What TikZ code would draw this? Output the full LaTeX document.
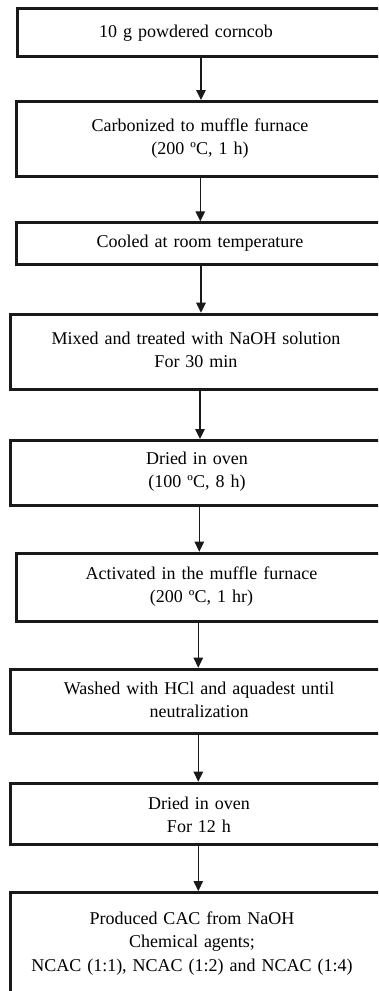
\documentclass[tikz,border=0pt]{standalone}
\usepackage{fontspec}
\setmainfont{Liberation Serif}
\usetikzlibrary{arrows.meta}
\tikzset{
  stepbox/.style={draw=black!90, line width=3pt, rectangle, inner sep=0pt, anchor=north west},
  steptext/.style={font=\fontsize{18}{23.5}\selectfont, text width=340pt, align=center, anchor=base, inner sep=0pt},
  arr/.style={draw=black!90, line width=1.2pt, -{Triangle[length=10pt,width=9.5pt]}}
}
\begin{document}
\begin{tikzpicture}[x=1pt,y=-1pt]
\useasboundingbox (0,0) rectangle (378,991);
\clip (0,0) rectangle (378,991);
\fill[white] (0,0) rectangle (378,991);
% boxes
\node[stepbox, minimum width=379.5pt, minimum height=47.8pt] (b1) at (15.5,6.7) {};
\node[stepbox, minimum width=380pt, minimum height=74.7pt] (b2) at (15,100) {};
\node[stepbox, minimum width=380pt, minimum height=42pt] (b3) at (15,221.3) {};
\node[stepbox, minimum width=385.7pt, minimum height=75pt] (b4) at (9.3,312.7) {};
\node[stepbox, minimum width=385.7pt, minimum height=65.3pt] (b5) at (9.3,439) {};
\node[stepbox, minimum width=380pt, minimum height=68.3pt] (b6) at (15,551.7) {};
\node[stepbox, minimum width=385.7pt, minimum height=64.6pt] (b7) at (9.3,667.7) {};
\node[stepbox, minimum width=385.7pt, minimum height=61.6pt] (b8) at (9.3,781.7) {};
\node[stepbox, minimum width=385.7pt, minimum height=119pt] (b9) at (9.3,891) {};
% texts
\node[steptext] (t1) at (186,37.3) {10 g powdered corncob};
\node[steptext] (t2) at (200,131) {Carbonized to muffle furnace\\(200 ºC, 1 h)};
\node[steptext] (t3) at (200,247.5) {Cooled at room temperature};
\node[steptext] (t4) at (196,344) {Mixed and treated with NaOH solution\\For 30 min};
\node[steptext] (t5) at (197,464) {Dried in oven\\(100 ºC, 8 h)};
\node[steptext] (t6) at (201.5,579) {Activated in the muffle furnace\\(200 ºC, 1 hr)};
\node[steptext] (t7) at (199,694) {Washed with HCl and aquadest until\\neutralization};
\node[steptext] (t8) at (199,809) {Dried in oven\\For 12 h};
\node[steptext] (t9) at (192,924) {Produced CAC from NaOH\\Chemical agents;\\NCAC (1:1), NCAC (1:2) and NCAC (1:4)};
% arrow columns
\coordinate (x1) at (201,0);
\coordinate (x2) at (200.3,0);
\coordinate (x3) at (201,0);
\coordinate (x4) at (200,0);
\coordinate (x5) at (199.3,0);
\coordinate (x6) at (198.3,0);
\coordinate (x7) at (198.3,0);
\coordinate (x8) at (198.3,0);
\draw[arr] (b1.south -| x1) -- (b2.north -| x1);
\draw[arr] (b2.south -| x2) -- (b3.north -| x2);
\draw[arr] (b3.south -| x3) -- (b4.north -| x3);
\draw[arr] (b4.south -| x4) -- (b5.north -| x4);
\draw[arr] (b5.south -| x5) -- (b6.north -| x5);
\draw[arr] (b6.south -| x6) -- (b7.north -| x6);
\draw[arr] (b7.south -| x7) -- (b8.north -| x7);
\draw[arr] (b8.south -| x8) -- (b9.north -| x8);
\end{tikzpicture}
\end{document}
